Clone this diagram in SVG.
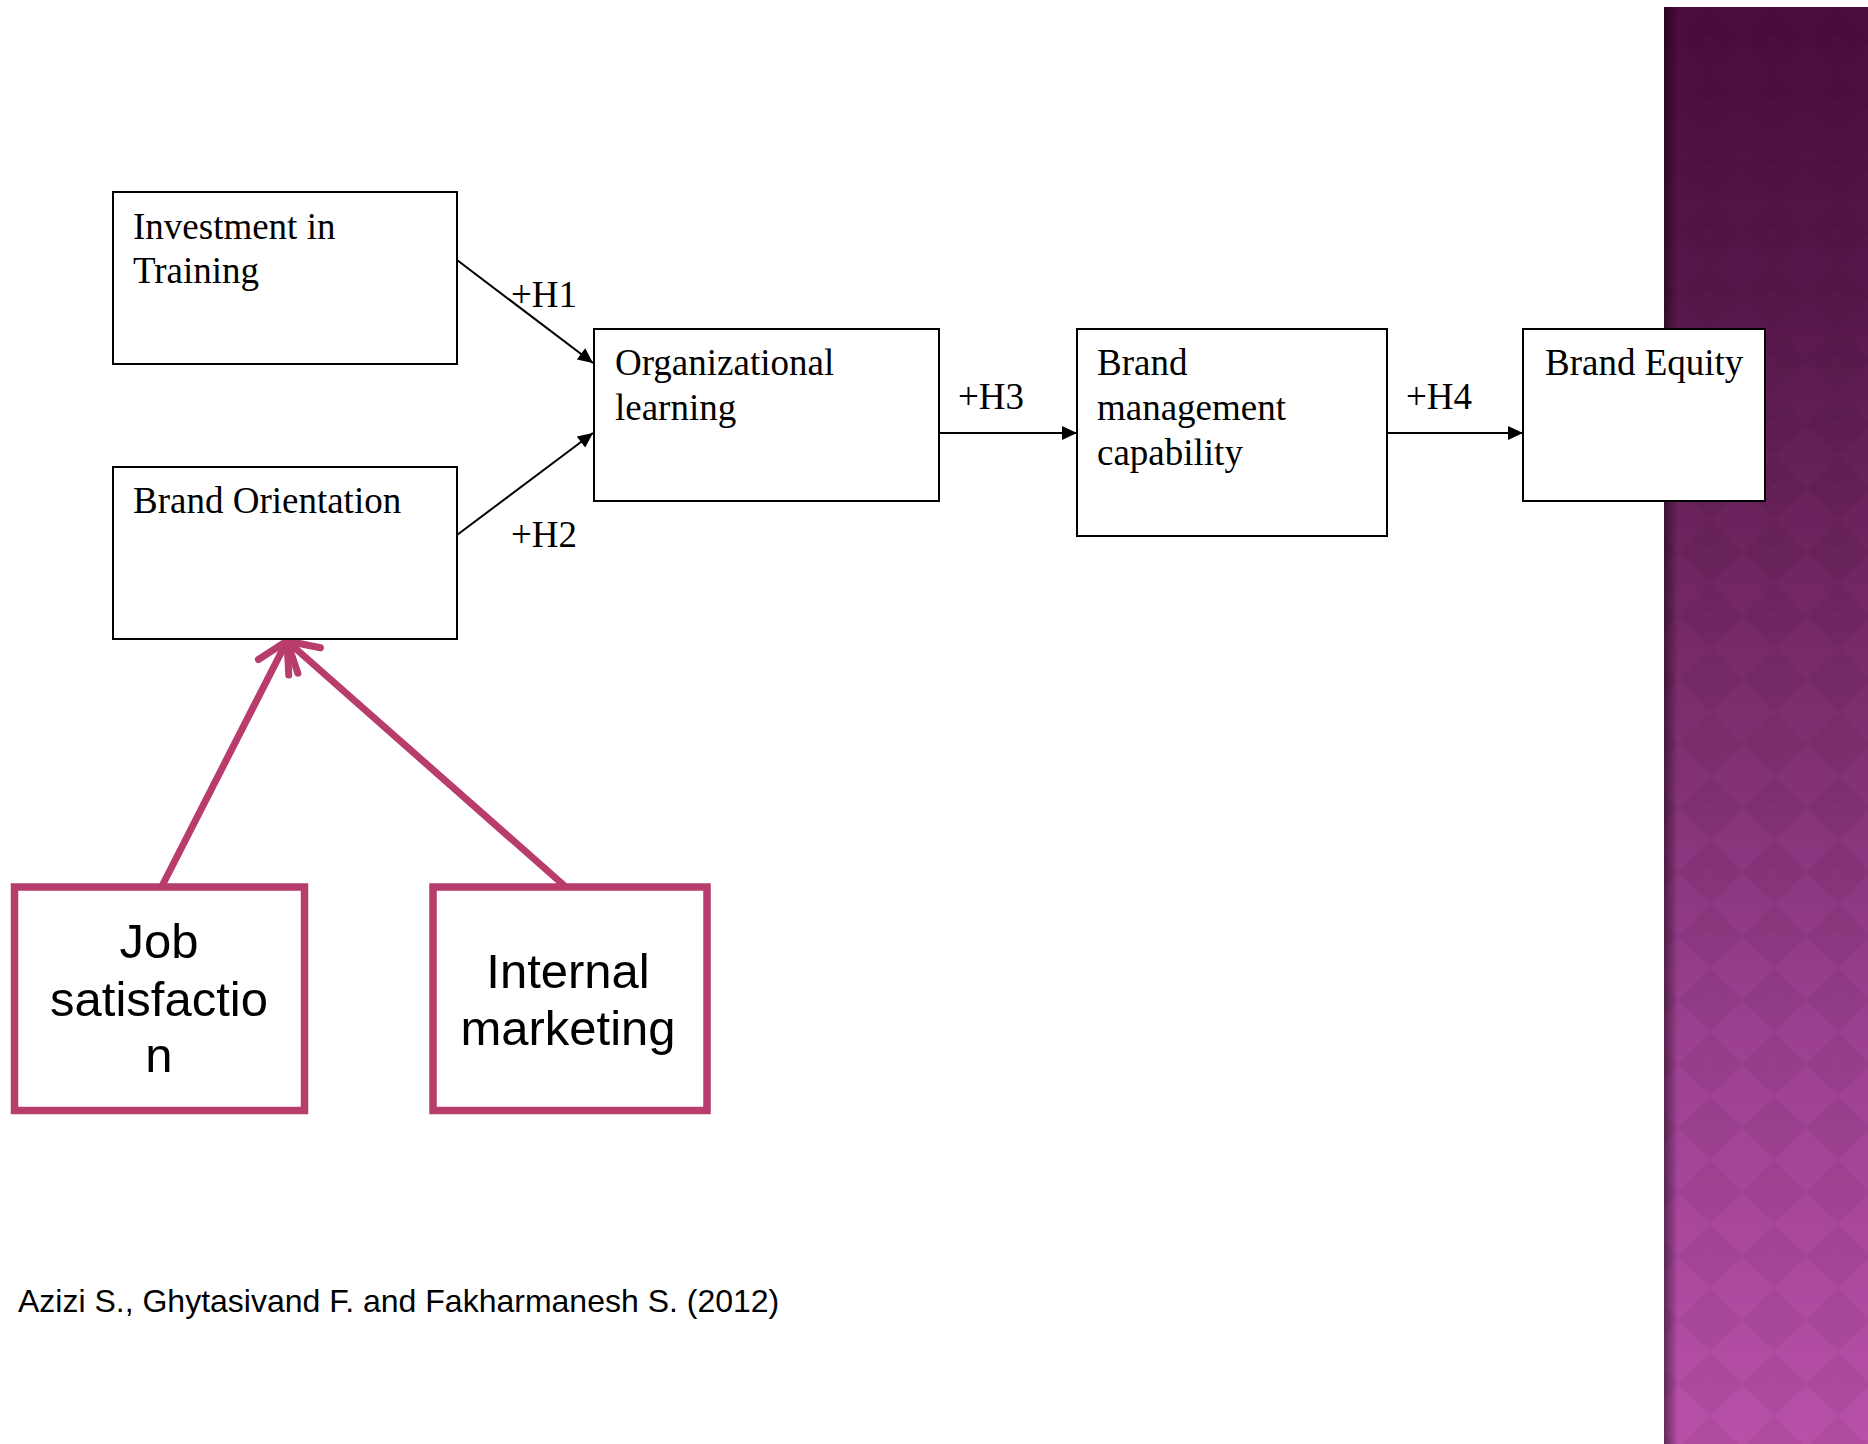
<svg xmlns="http://www.w3.org/2000/svg" width="1868" height="1444" viewBox="0 0 1868 1444">
  <defs>
    <style>
      .box { fill: #ffffff; stroke: #000000; stroke-width: 2; }
      .lbl { font-family: "Liberation Serif", "Times New Roman", serif; font-size: 37px; fill: #000000; }
      .pbox { fill: #ffffff; stroke: #b83d6c; stroke-width: 7.5; }
      .plbl { font-family: "Liberation Sans", Arial, sans-serif; font-size: 49px; fill: #000000; text-anchor: middle; }
      .link { fill: none; stroke: #000000; stroke-width: 2; marker-end: url(#solid); }
      .plink { fill: none; stroke: #b83d6c; stroke-width: 7; stroke-linecap: round; marker-end: url(#open); }
      .cite { font-family: "Liberation Sans", Arial, sans-serif; font-size: 32px; fill: #000000; }
    </style>
    <marker id="solid" markerUnits="userSpaceOnUse" markerWidth="18" markerHeight="16" viewBox="-16 -8 18 16" refX="0" refY="0" orient="auto">
      <path d="M-15,-7 L0,0 L-15,7 Z" fill="#000000"/>
    </marker>
    <marker id="open" markerUnits="userSpaceOnUse" markerWidth="50" markerHeight="60" viewBox="-42 -30 50 60" refX="0" refY="0" orient="auto">
      <path d="M-29.5,-17 L0,0 L-29.5,17" fill="none" stroke="#b83d6c" stroke-width="7" stroke-linecap="round" stroke-linejoin="round"/>
    </marker>
    <linearGradient id="panelFill" x1="0" y1="0" x2="0" y2="1">
      <stop offset="0" stop-color="#4b0b3c"/>
      <stop offset="0.2" stop-color="#57174a"/>
      <stop offset="0.45" stop-color="#772a68"/>
      <stop offset="0.7" stop-color="#9a3f8e"/>
      <stop offset="1" stop-color="#b850a8"/>
    </linearGradient>
    <linearGradient id="panelEdge" x1="0" y1="0" x2="1" y2="0">
      <stop offset="0" stop-color="#000000" stop-opacity="0.45"/>
      <stop offset="1" stop-color="#000000" stop-opacity="0"/>
    </linearGradient>
    <pattern id="diamonds" patternUnits="userSpaceOnUse" x="1678" y="8" width="64" height="64">
      <path d="M32,0 L64,32 L32,64 L0,32 Z" fill="#000000" fill-opacity="0.05"/>
      <path d="M32,29 V35 M29,32 H35" stroke="#ffffff" stroke-opacity="0.04" stroke-width="1"/>
    </pattern>
  </defs>

  <rect x="0" y="0" width="1868" height="1444" fill="#ffffff"/>

  <!-- decorative side panel -->
  <g id="side-panel">
    <rect x="1664" y="7" width="204" height="1437" fill="url(#panelFill)"/>
    <rect x="1664" y="7" width="204" height="1437" fill="url(#diamonds)"/>
    <rect x="1664" y="7" width="14" height="1437" fill="url(#panelEdge)"/>
  </g>

  <!-- connectors -->
  <g id="connectors">
    <line class="link" x1="457" y1="260" x2="593" y2="363"/>
    <line class="link" x1="457" y1="535" x2="593" y2="433"/>
    <line class="link" x1="939" y1="433" x2="1077" y2="433"/>
    <line class="link" x1="1387" y1="433" x2="1523" y2="433"/>
    <line class="plink" x1="161.5" y1="887" x2="287" y2="641"/>
    <line class="plink" x1="567" y1="888" x2="287" y2="641"/>
    <text class="lbl" x="511" y="307">+H1</text>
    <text class="lbl" x="511" y="547">+H2</text>
    <text class="lbl" x="958" y="409">+H3</text>
    <text class="lbl" x="1406" y="409">+H4</text>
  </g>

  <g id="investment-in-training">
    <rect class="box" x="113" y="192" width="344" height="172"/>
    <text class="lbl" x="133" y="239">Investment in</text>
    <text class="lbl" x="133" y="283">Training</text>
  </g>

  <g id="brand-orientation">
    <rect class="box" x="113" y="467" width="344" height="172"/>
    <text class="lbl" x="133" y="513">Brand Orientation</text>
  </g>

  <g id="organizational-learning">
    <rect class="box" x="594" y="329" width="345" height="172"/>
    <text class="lbl" x="615" y="375">Organizational</text>
    <text class="lbl" x="615" y="420">learning</text>
  </g>

  <g id="brand-management-capability">
    <rect class="box" x="1077" y="329" width="310" height="207"/>
    <text class="lbl" x="1097" y="375">Brand</text>
    <text class="lbl" x="1097" y="420">management</text>
    <text class="lbl" x="1097" y="465">capability</text>
  </g>

  <g id="brand-equity">
    <rect class="box" x="1523" y="329" width="242" height="172"/>
    <text class="lbl" x="1545" y="375">Brand Equity</text>
  </g>

  <g id="job-satisfaction">
    <rect class="pbox" x="14.5" y="887" width="290" height="223.5"/>
    <text class="plbl" x="159" y="958">Job</text>
    <text class="plbl" x="159" y="1016">satisfactio</text>
    <text class="plbl" x="159" y="1072">n</text>
  </g>

  <g id="internal-marketing">
    <rect class="pbox" x="433" y="887" width="274" height="223.5"/>
    <text class="plbl" x="568" y="988">Internal</text>
    <text class="plbl" x="568" y="1045">marketing</text>
  </g>

  <text class="cite" x="18" y="1312">Azizi S., Ghytasivand F. and Fakharmanesh S. (2012)</text>
</svg>
